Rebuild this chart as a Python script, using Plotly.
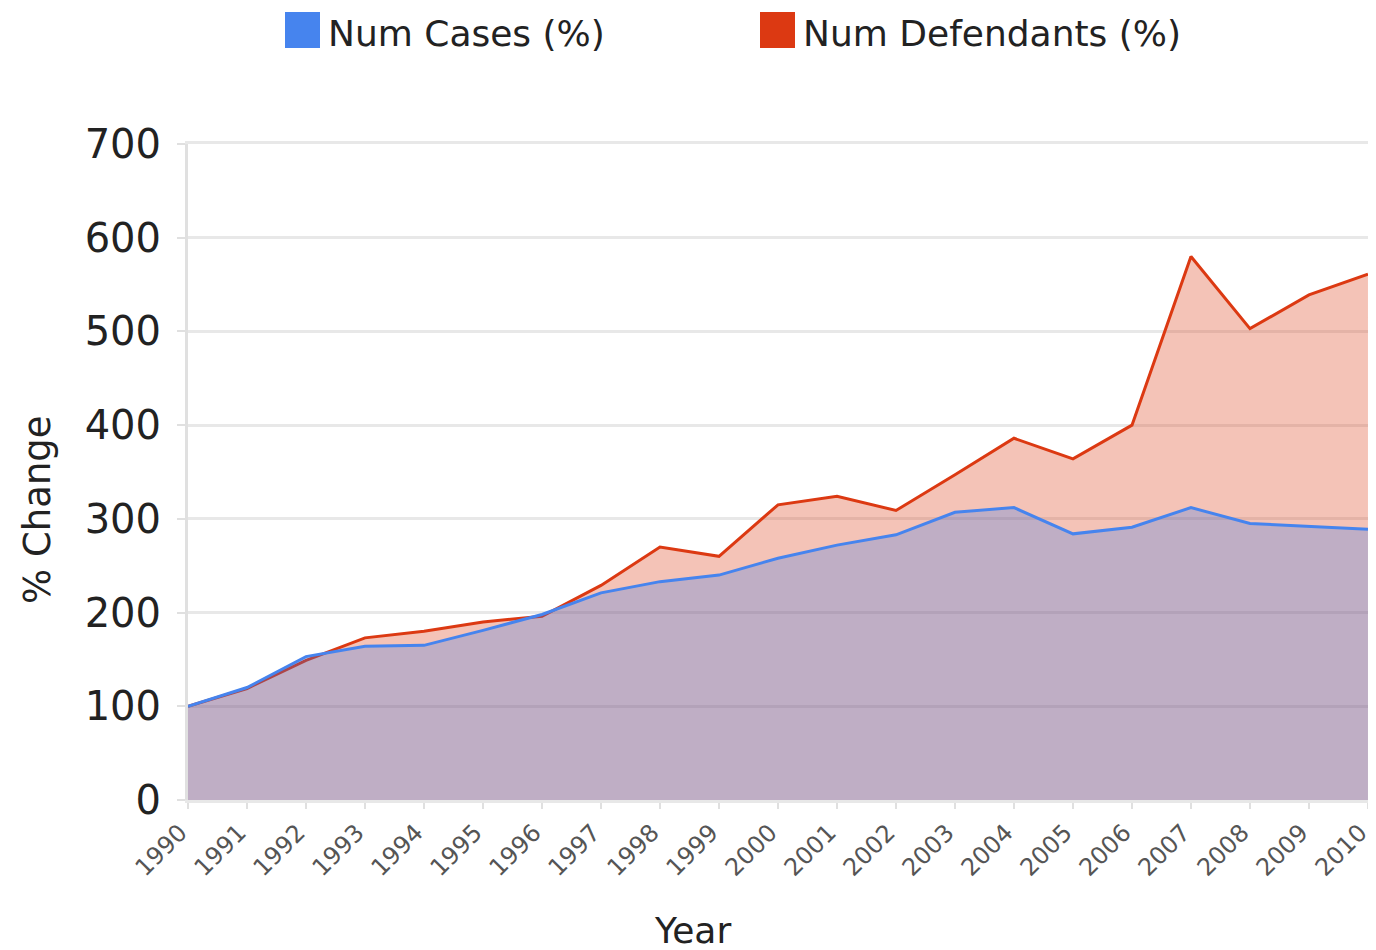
import plotly.graph_objects as go

years = list(range(1990, 2011))
num_cases = [100, 120, 153, 164, 165, 181, 198, 221, 233, 240, 258, 272, 283, 307, 312, 284, 291, 312, 295, 292, 289]
num_defendants = [100, 119, 149, 173, 180, 190, 196, 229, 270, 260, 315, 324, 309, 347, 386, 364, 400, 580, 503, 539, 561]
series_names = ["Num Cases (%)", "Num Defendants (%)"]
y_ticks = [0, 100, 200, 300, 400, 500, 600, 700]

BLUE = "#4684ee"
RED = "#dc3912"
FONT = "DejaVu Sans"

# plot area in screen pixels (page has an 8px body margin)
PL, PR, PT, PB = 188, 1368, 144, 800
PW, PH = PR - PL, PB - PT

def px(x):
    return (x - PL) / PW

def py(y):
    return (PB - y) / PH

fig = go.Figure()
fig.add_trace(go.Scatter(
    x=years, y=num_defendants, name=series_names[1], mode="lines",
    line=dict(color=RED, width=3), fill="tozeroy",
    fillcolor="rgba(220,57,18,0.30)", showlegend=False))
fig.add_trace(go.Scatter(
    x=years, y=num_cases, name=series_names[0], mode="lines",
    line=dict(color=BLUE, width=3), fill="tozeroy",
    fillcolor="rgba(30,110,240,0.25)", showlegend=False))

# legend drawn manually (large square swatches)
for x0, col, label in [(285, BLUE, series_names[0]), (760, RED, series_names[1])]:
    fig.add_shape(type="rect", xref="paper", yref="paper",
                  x0=px(x0), x1=px(x0 + 35), y0=py(48), y1=py(12),
                  fillcolor=col, line=dict(width=0))
    fig.add_annotation(text=label, xref="paper", yref="paper",
                       x=px(x0 + 41), y=py(33),
                       xanchor="left", yanchor="middle", showarrow=False,
                       font=dict(family=FONT, size=36, color="#222"))

fig.add_annotation(text="Year", xref="paper", yref="paper",
                   x=px(692), y=py(930),
                   xanchor="center", yanchor="middle", showarrow=False,
                   font=dict(family=FONT, size=36, color="#222"))

fig.add_annotation(text="% Change", xref="paper", yref="paper",
                   x=px(38), y=py(510), textangle=-90,
                   xanchor="center", yanchor="middle", showarrow=False,
                   font=dict(family=FONT, size=37, color="#222"))

fig.update_layout(
    width=1376, height=950,
    margin=dict(l=PL - 8, r=1376 - (PR - 8), t=PT - 8, b=950 - (PB - 8)),
    paper_bgcolor="white", plot_bgcolor="white",
    font=dict(family=FONT, color="#222"),
    xaxis=dict(range=[1990, 2010.0005], tickmode="array", tickvals=years,
               ticktext=[str(y) for y in years], tickangle=-45,
               tickfont=dict(family=FONT, size=24, color="#555"),
               ticklabelshift=-8,
               showgrid=False, zeroline=False,
               showline=True, mirror=True, linecolor="#e8e8e8", linewidth=3,
               ticks="outside", ticklen=6, tickcolor="#e0e0e0", tickwidth=2,
               automargin=False),
    yaxis=dict(range=[0, 700], tickmode="array", tickvals=y_ticks,
               tickfont=dict(family=FONT, size=40, color="#222"),
               showgrid=True, gridcolor="#e8e8e8", gridwidth=3,
               zeroline=False, showline=True, linecolor="#e0e0e0", linewidth=3,
               mirror=True, ticks="outside", ticklen=8, tickcolor="#e0e0e0",
               tickwidth=2, ticklabelstandoff=8,
               automargin=False),
)

fig.write_html("out.html")
